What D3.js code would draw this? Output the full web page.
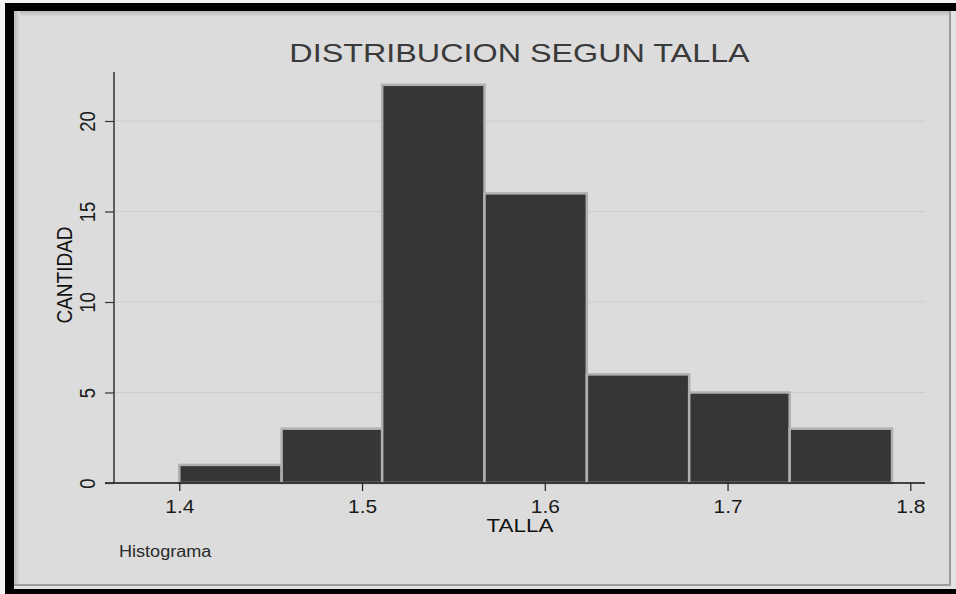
<!DOCTYPE html>
<html>
<head>
<meta charset="utf-8">
<script src="https://cdn.jsdelivr.net/npm/d3@7"></script>
<style>
  html, body { margin: 0; padding: 0; background: #ffffff; overflow: hidden; }
  svg { display: block; font-family: "Liberation Sans", Arial, sans-serif; }
</style>
</head>
<body>
<svg id="chart" width="956" height="594"></svg>
<script>
// ---- data ----
const binEdges = [1.400, 1.456, 1.511, 1.567, 1.623, 1.679, 1.734, 1.790];
const counts = [1, 3, 22, 16, 6, 5, 3];
const xTicks = [1.4, 1.5, 1.6, 1.7, 1.8];
const yTicks = [0, 5, 10, 15, 20];
const titleText = "DISTRIBUCION SEGUN TALLA";
const xLabel = "TALLA";
const yLabel = "CANTIDAD";
const noteText = "Histograma";

const bins = counts.map((c, i) => ({ x0: binEdges[i], x1: binEdges[i + 1], count: c }));

const svg = d3.select("#chart");
const W = 956, H = 594;

// ---- frame ----
svg.append("rect").attr("x", 0).attr("y", 0).attr("width", W).attr("height", H).attr("fill", "#e2e2e2");
// outer shadow lines (right / bottom)
svg.append("rect").attr("x", 14).attr("y", 11).attr("width", 937).attr("height", 575).attr("fill", "#9c9c9c");
svg.append("rect").attr("x", 14).attr("y", 11).attr("width", 935).attr("height", 573).attr("fill", "#dcdcdc");
// black bands: top, left, bottom
svg.append("rect").attr("x", 0).attr("y", 0).attr("width", W).attr("height", 3).attr("fill", "#f4f4f4");
svg.append("rect").attr("x", 5).attr("y", 3).attr("width", W - 5).attr("height", 8).attr("fill", "#000");
svg.append("rect").attr("x", 0).attr("y", 0).attr("width", 5).attr("height", H).attr("fill", "#f4f4f4");
svg.append("rect").attr("x", 5).attr("y", 3).attr("width", 9).attr("height", H - 3).attr("fill", "#000");
svg.append("rect").attr("x", 5).attr("y", 589).attr("width", W - 5).attr("height", 5).attr("fill", "#000");
// inner top/left soft shadow
const defs = svg.append("defs");
const gTop = defs.append("linearGradient").attr("id", "gTop").attr("x1", 0).attr("y1", 0).attr("x2", 0).attr("y2", 1);
gTop.append("stop").attr("offset", "0%").attr("stop-color", "#b8b8b8");
gTop.append("stop").attr("offset", "100%").attr("stop-color", "#dcdcdc");
const gLeft = defs.append("linearGradient").attr("id", "gLeft").attr("x1", 0).attr("y1", 0).attr("x2", 1).attr("y2", 0);
gLeft.append("stop").attr("offset", "0%").attr("stop-color", "#b8b8b8");
gLeft.append("stop").attr("offset", "100%").attr("stop-color", "#dcdcdc");
svg.append("rect").attr("x", 14).attr("y", 11).attr("width", 935).attr("height", 6).attr("fill", "url(#gTop)");
svg.append("rect").attr("x", 14).attr("y", 11).attr("width", 6).attr("height", 573).attr("fill", "url(#gLeft)");

// ---- scales ----
const x = d3.scaleLinear().domain([1.4, 1.8]).range([179.3, 910.3]);
const y = d3.scaleLinear().domain([0, 20]).range([483, 121]);
const plotLeft = 114, plotRight = 925, plotTop = 72;

// gridlines
svg.append("g").selectAll("line").data(yTicks.filter(d => d > 0)).join("line")
  .attr("x1", plotLeft).attr("x2", plotRight)
  .attr("y1", d => y(d)).attr("y2", d => y(d))
  .attr("stroke", "#cdcdcd").attr("stroke-width", 1.2);

// bars
svg.append("g").selectAll("rect").data(bins).join("rect")
  .attr("x", d => x(d.x0))
  .attr("y", d => y(d.count))
  .attr("width", d => x(d.x1) - x(d.x0))
  .attr("height", d => y(0) - y(d.count))
  .attr("fill", "#363636")
  .attr("stroke", "#b0b0b0")
  .attr("stroke-width", 2.5);

// x axis
const xAxis = svg.append("g").attr("transform", `translate(0,${y(0)})`)
  .call(d3.axisBottom(x).tickValues(xTicks).tickFormat(d3.format(".1f")).tickSize(8).tickSizeOuter(0));
xAxis.select(".domain").remove();
xAxis.append("line").attr("x1", plotLeft - 9).attr("x2", plotRight).attr("y1", 0).attr("y2", 0)
  .attr("stroke", "#111").attr("stroke-width", 1.5);
xAxis.selectAll(".tick line").attr("stroke", "#222").attr("stroke-width", 1.2);
xAxis.selectAll(".tick text")
  .attr("y", 30).attr("dy", 0)
  .attr("font-size", "18.5px").attr("fill", "#1a1a1a")
  .attr("font-family", "Liberation Sans, Arial, sans-serif")
  .attr("transform", "scale(1.13,1)")
  .attr("x", 0);

// y axis
const yAxis = svg.append("g").attr("transform", `translate(${plotLeft},0)`)
  .call(d3.axisLeft(y).tickValues(yTicks).tickSize(9).tickSizeOuter(0));
yAxis.select(".domain").remove();
yAxis.append("line").attr("x1", 0).attr("x2", 0).attr("y1", plotTop).attr("y2", y(0))
  .attr("stroke", "#333").attr("stroke-width", 1.5);
yAxis.selectAll(".tick line").attr("stroke", "#333").attr("stroke-width", 1.2);
yAxis.selectAll(".tick text")
  .attr("x", 0).attr("y", 0).attr("dy", 0)
  .attr("text-anchor", "middle")
  .attr("font-size", "18.5px").attr("fill", "#1a1a1a")
  .attr("font-family", "Liberation Sans, Arial, sans-serif")
  .attr("transform", "translate(-19,0) scale(1.2,1) rotate(-90)");

// title
svg.append("text")
  .attr("transform", `translate(${(plotLeft + plotRight) / 2},62) scale(1.22,1)`)
  .attr("text-anchor", "middle")
  .attr("font-size", "26.5px").attr("fill", "#3a3a3a")
  .text(titleText);

// x label
svg.append("text")
  .attr("transform", `translate(520,532) scale(1.18,1)`)
  .attr("text-anchor", "middle")
  .attr("font-size", "19px").attr("fill", "#111")
  .text(xLabel);

// y label
svg.append("text")
  .attr("transform", `translate(72,275) scale(1.15,1) rotate(-90)`)
  .attr("text-anchor", "middle")
  .attr("font-size", "19px").attr("fill", "#111")
  .text(yLabel);

// note
svg.append("text")
  .attr("transform", `translate(119,557) scale(1.13,1)`)
  .attr("text-anchor", "start")
  .attr("font-size", "16px").attr("fill", "#2a2a2a")
  .text(noteText);
</script>
</body>
</html>
